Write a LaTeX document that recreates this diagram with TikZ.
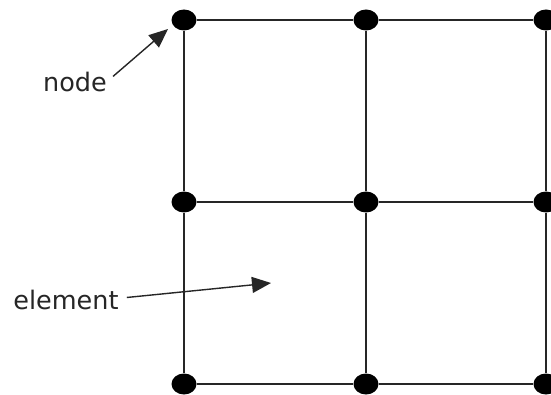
\documentclass[tikz,border=0pt]{standalone}
\usepackage{fontspec}
\setmainfont{DejaVu Sans}
\usetikzlibrary{shapes.geometric,arrows.meta}
\begin{document}
\begin{tikzpicture}[x=1pt,y=-1pt,
  dot/.style={ellipse,fill=black,draw=none,minimum width=25pt,minimum height=21pt,inner sep=0pt},
  gridline/.style={draw=black!85,line width=1.6pt},
  pointer/.style={draw=black!85,line width=1.4pt,-{Triangle[length=19pt,width=16pt]}},
  lbl/.style={text=black!85,font=\fontsize{25.5}{30}\selectfont,inner sep=0pt,anchor=base}]
\useasboundingbox (0,0) rectangle (551,395);
\clip (0,0) rectangle (551,395);
\fill[white] (0,0) rectangle (551,395);
\node[dot] (a1) at (184,20) {};
\node[dot] (a2) at (366,20) {};
\node[dot] (a3) at (546,20) {};
\node[dot] (b1) at (184,202) {};
\node[dot] (b2) at (366,202) {};
\node[dot] (b3) at (546,202) {};
\node[dot] (c1) at (184,384) {};
\node[dot] (c2) at (366,384) {};
\node[dot] (c3) at (546,384) {};
\draw[gridline] (a1) -- (a2) (a2) -- (a3) (b1) -- (b2) (b2) -- (b3) (c1) -- (c2) (c2) -- (c3);
\draw[gridline] (a1) -- (b1) (b1) -- (c1) (a2) -- (b2) (b2) -- (c2) (a3) -- (b3) (b3) -- (c3);
\node[lbl] (nl) at (75,92) {node};
\node[lbl] (el) at (66,309) {element};
\coordinate (nt) at (168,29);
\coordinate (et) at (271,283);
\draw[pointer] (nl.north east) ++(6,4) -- (nt);
\draw[pointer] (el.east) ++(8,-2) -- (et);
\end{tikzpicture}
\end{document}
